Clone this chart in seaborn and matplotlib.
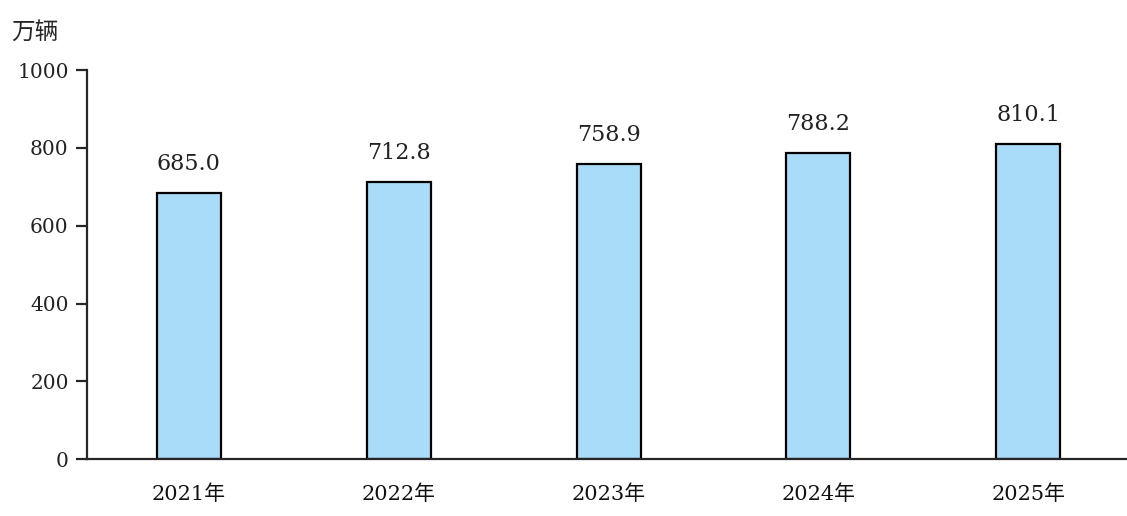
import matplotlib
matplotlib.use("Agg")
import matplotlib.pyplot as plt
import seaborn as sns
import pandas as pd

# 数据
years = ["2021年", "2022年", "2023年", "2024年", "2025年"]
values = [685.0, 712.8, 758.9, 788.2, 810.1]
yticks = [0, 200, 400, 600, 800, 1000]

sns.set_style("ticks")
plt.rcParams['font.family'] = ['DejaVu Serif', 'Noto Sans CJK SC']

df = pd.DataFrame({"年份": years, "数量": values})

fig = plt.figure(figsize=(11.27, 5.16), dpi=100)
ax = fig.add_axes([0.077, 0.110, 0.923, 0.754])

sns.barplot(data=df, x="年份", y="数量", color="#A9DCF9", saturation=1,
            width=0.305, edgecolor="black", linewidth=1.6, ax=ax)

# 柱顶数值
for i, v in enumerate(values):
    ax.text(i, v + 58, f"{v:.1f}", ha="center", va="baseline", fontsize=16,
            color="#222222")

ax.set_xlim(-0.486, 4.47)
ax.set_ylim(0, 1000)
ax.set_yticks(yticks)
ax.set_xlabel("")
ax.set_ylabel("")
ax.tick_params(axis="y", direction="out", length=8, width=1.6, labelsize=14.5,
               pad=5, labelcolor="#222222")
ax.tick_params(axis="x", length=0, labelsize=15, pad=18, labelcolor="#111111")
for s in ["top", "right"]:
    ax.spines[s].set_visible(False)
for s in ["left", "bottom"]:
    ax.spines[s].set_linewidth(1.6)

fig.text(0.010, 0.936, "万辆", fontsize=17, va="center", weight="medium",
         family=['Noto Sans CJK SC'])

fig.savefig("out.png", dpi=100)
